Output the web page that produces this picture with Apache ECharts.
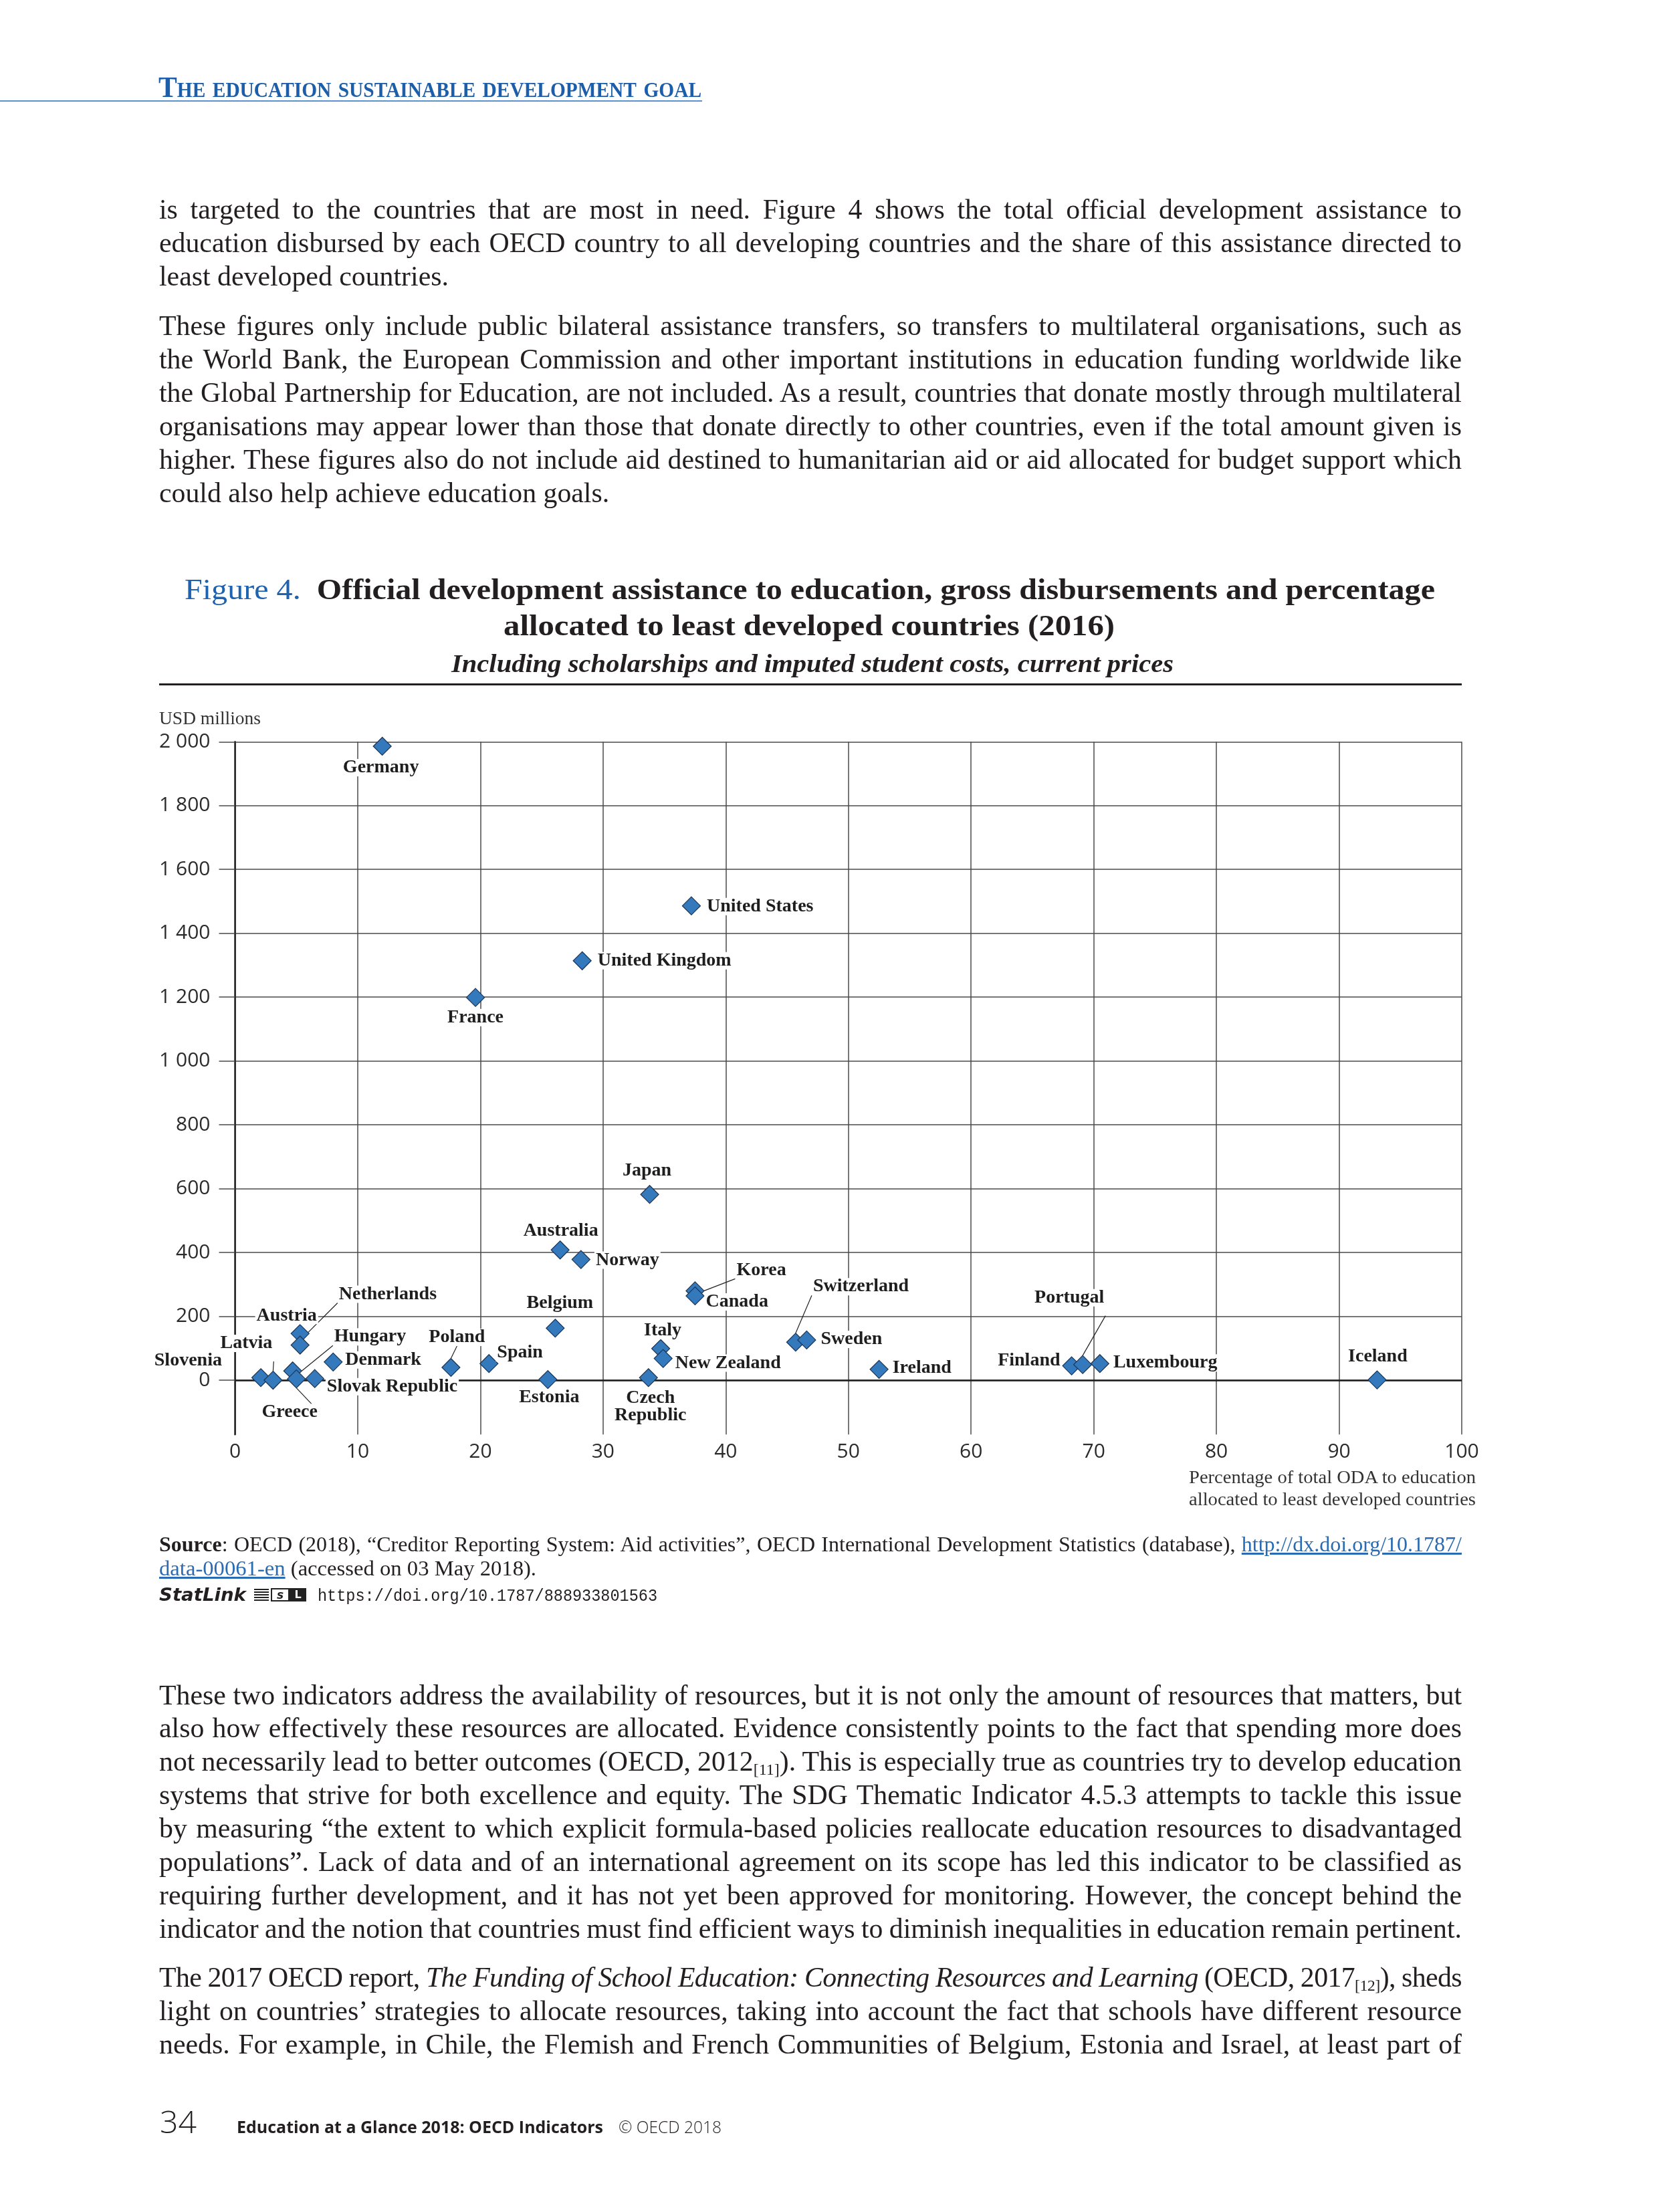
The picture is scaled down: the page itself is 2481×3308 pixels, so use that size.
<!DOCTYPE html>
<html><head><meta charset="utf-8">
<script src="https://cdn.jsdelivr.net/npm/echarts@6/dist/echarts.min.js"></script>
<style>
html,body{margin:0;padding:0;background:#fff}
#page{position:relative;width:2481px;height:3308px;overflow:hidden;background:#fff}
#chart{position:absolute;left:0;top:0;width:2481px;height:3308px}
.t{position:absolute;left:0;top:0;white-space:nowrap;font-family:'Liberation Serif',serif;color:#231f20;line-height:1}
.body{font-size:41.8px}
.hdr{font-size:44px;font-weight:bold;font-variant:small-caps;color:#1c5ea9}
.title{font-size:44px;font-weight:bold}
.sub{font-size:38px;font-style:italic;font-weight:bold}
.note{font-size:27px;color:#333}
.src{font-size:32px}
.src a{color:#2a6cb3;text-decoration:underline}
.foot{font-family:'Open Sans',sans-serif}
</style></head>
<body><div id="page">
<div id="chart"></div>

<div class="t hdr" data-x="237" data-b="145" data-w="812" data-fit="scale">The education sustainable development goal</div>
<div style="position:absolute;left:0;top:150px;width:1050px;height:2px;background:#5b93cd"></div>

<div class="t body" data-x="238" data-b="327" data-w="1948" data-fit="justify">is targeted to the countries that are most in need. Figure 4 shows the total official development assistance to</div>
<div class="t body" data-x="238" data-b="377" data-w="1948" data-fit="justify">education disbursed by each OECD country to all developing countries and the share of this assistance directed to</div>
<div class="t body" data-x="238" data-b="427">least developed countries.</div>

<div class="t body" data-x="238" data-b="501" data-w="1948" data-fit="justify">These figures only include public bilateral assistance transfers, so transfers to multilateral organisations, such as</div>
<div class="t body" data-x="238" data-b="551" data-w="1948" data-fit="justify">the World Bank, the European Commission and other important institutions in education funding worldwide like</div>
<div class="t body" data-x="238" data-b="601" data-w="1948" data-fit="justify">the Global Partnership for Education, are not included. As a result, countries that donate mostly through multilateral</div>
<div class="t body" data-x="238" data-b="651" data-w="1948" data-fit="justify">organisations may appear lower than those that donate directly to other countries, even if the total amount given is</div>
<div class="t body" data-x="238" data-b="701" data-w="1948" data-fit="justify">higher. These figures also do not include aid destined to humanitarian aid or aid allocated for budget support which</div>
<div class="t body" data-x="238" data-b="751">could also help achieve education goals.</div>

<div class="t title" data-x="276" data-b="896" data-w="1870" data-fit="scale"><span style="color:#1d63b0;font-weight:normal">Figure 4.</span>&#8194;Official development assistance to education, gross disbursements and percentage</div>
<div class="t title" data-cx="1210" data-b="950" data-w="914" data-fit="scale">allocated to least developed countries (2016)</div>
<div class="t sub" data-cx="1215" data-b="1005" data-w="1080" data-fit="scale">Including scholarships and imputed student costs, current prices</div>
<div style="position:absolute;left:238px;top:1022px;width:1948px;height:3px;background:#231f20"></div>

<div class="t note" data-x="238" data-b="1083" data-w="152" data-fit="scale">USD millions</div>
<div class="t note" data-rx="2207" data-b="2218" data-w="429" data-fit="scale">Percentage of total ODA to education</div>
<div class="t note" data-rx="2207" data-b="2251" data-w="429" data-fit="scale">allocated to least developed countries</div>

<div class="t src" data-x="238" data-b="2320" data-w="1948" data-fit="justify"><b>Source</b>: OECD (2018), “Creditor Reporting System: Aid activities”, OECD International Development Statistics (database), <a>http://dx.doi.org/10.1787/</a></div>
<div class="t src" data-x="238" data-b="2356" data-w="564" data-fit="scale"><a>data-00061-en</a> (accessed on 03 May 2018).</div>
<div class="t" style="font-family:'DejaVu Sans',sans-serif;font-weight:bold;font-style:italic;font-size:26px" data-x="238" data-b="2394" data-w="130" data-fit="scale">StatLink</div>
<div style="position:absolute;left:380px;top:2375px;width:78px;height:20px">
  <div style="position:absolute;left:0;top:1px;width:22px;height:18px;background:repeating-linear-gradient(to bottom,#222 0 2px,transparent 2px 4px)"></div>
  <div style="position:absolute;left:25px;top:0;width:24px;height:16px;border:2px solid #222;font:italic bold 17px 'DejaVu Sans';line-height:16px;text-align:center;color:#222">s</div>
  <div style="position:absolute;left:53px;top:0;width:25px;height:20px;background:#222;color:#fff;font:bold 16px 'DejaVu Sans';line-height:20px;text-align:center">L</div>
</div>
<div class="t" style="font-family:'Liberation Mono',monospace;font-size:25px" data-x="475" data-b="2394" data-w="508" data-fit="scale">https://doi.org/10.1787/888933801563</div>

<div class="t body" data-x="238" data-b="2549" data-w="1948" data-fit="justify">These two indicators address the availability of resources, but it is not only the amount of resources that matters, but</div>
<div class="t body" data-x="238" data-b="2598" data-w="1948" data-fit="justify">also how effectively these resources are allocated. Evidence consistently points to the fact that spending more does</div>
<div class="t body" data-x="238" data-b="2648" data-w="1948" data-fit="justify">not necessarily lead to better outcomes (OECD, 2012<span style="font-size:24px;position:relative;top:6px">[11]</span>). This is especially true as countries try to develop education</div>
<div class="t body" data-x="238" data-b="2698" data-w="1948" data-fit="justify">systems that strive for both excellence and equity. The SDG Thematic Indicator 4.5.3 attempts to tackle this issue</div>
<div class="t body" data-x="238" data-b="2748" data-w="1948" data-fit="justify">by measuring “the extent to which explicit formula-based policies reallocate education resources to disadvantaged</div>
<div class="t body" data-x="238" data-b="2798" data-w="1948" data-fit="justify">populations”. Lack of data and of an international agreement on its scope has led this indicator to be classified as</div>
<div class="t body" data-x="238" data-b="2848" data-w="1948" data-fit="justify">requiring further development, and it has not yet been approved for monitoring. However, the concept behind the</div>
<div class="t body" data-x="238" data-b="2898" data-w="1948" data-fit="justify">indicator and the notion that countries must find efficient ways to diminish inequalities in education remain pertinent.</div>

<div class="t body" style="letter-spacing:-0.6px" data-x="238" data-b="2971" data-w="1948" data-fit="justify">The 2017 OECD report, <i>The Funding of School Education: Connecting Resources and Learning</i> (OECD, 2017<span style="font-size:24px;position:relative;top:6px">[12]</span>), sheds</div>
<div class="t body" data-x="238" data-b="3021" data-w="1948" data-fit="justify">light on countries’ strategies to allocate resources, taking into account the fact that schools have different resource</div>
<div class="t body" data-x="238" data-b="3071" data-w="1948" data-fit="justify">needs. For example, in Chile, the Flemish and French Communities of Belgium, Estonia and Israel, at least part of</div>

<div class="t foot" style="font-size:46px;font-weight:300" data-x="239" data-b="3190" data-w="55" data-fit="scale">34</div>
<div class="t foot" style="font-size:25px;font-weight:bold" data-x="354" data-b="3190" data-w="548" data-fit="scale">Education at a Glance 2018: OECD Indicators</div>
<div class="t foot" style="font-size:25px;font-weight:300" data-x="925" data-b="3190" data-w="154" data-fit="scale">© OECD 2018</div>
</div>

<script>
// ---------------- data ----------------
const COUNTRIES = ['Germany','France','United Kingdom','United States','Japan','Australia','Norway','Korea','Canada','Belgium','Italy','New Zealand','Czech Republic','Estonia','Spain','Poland','Denmark','Austria','Netherlands','Hungary','Greece','Slovak Republic','Slovenia','Latvia','Switzerland','Sweden','Ireland','Finland','Portugal','Luxembourg','Iceland'];
// Percentage of total ODA to education allocated to least developed countries
const SHARE_LDC = [12.0,19.6,28.3,37.2,33.8,26.5,28.2,37.5,37.5,26.1,34.7,34.9,33.7,25.5,20.7,17.6,8.0,5.3,5.3,4.7,5.0,6.5,2.1,3.1,45.7,46.6,52.5,68.2,69.1,70.5,93.1];
// ODA to education, gross disbursements, USD millions
const ODA_USD = [1986,1199,1314,1486,582,408,378,280,264,163,99,68,8,2,52,40,57,146,110,29,4,5,8,0,119,126,34,45,49,52,1];
const X_TICKS = [0,10,20,30,40,50,60,70,80,90,100];
const Y_TICKS = [0,200,400,600,800,1000,1200,1400,1600,1800,2000];
const Y_TICK_LABELS = ['0','200','400','600','800','1 000','1 200','1 400','1 600','1 800','2 000'];
const Y_MIN = -170, Y_MAX = 2000;

// ---------------- label placement (style, not data) ----------------
const LABEL_POS = {
  'Germany':['inside',[-2,32]], 'France':['inside',[0,30]],
  'United Kingdom':['right',[7,0]], 'United States':['right',[7,1]],
  'Japan':['inside',[-4,-35]], 'Australia':['inside',[1,-29]], 'Norway':['right',[6,1]],
  'Korea':['right',[46,-31]], 'Canada':['right',[0,9]], 'Belgium':['inside',[7,-37]],
  'Italy':['inside',[3,-27]], 'New Zealand':['right',[2,7]], 'Czech Republic':['inside',[3,44]],
  'Estonia':['inside',[2,27]], 'Spain':['right',[-4,-16]], 'Poland':['inside',[9,-45]],
  'Denmark':['right',[2,-3]], 'Austria':['inside',[-20,-27]], 'Netherlands':['right',[42,-76]],
  'Hungary':['right',[46,-51]], 'Greece':['inside',[-10,50]], 'Slovak Republic':['right',[2,12]],
  'Slovenia':['left',[-42,-25]], 'Latvia':['inside',[-40,-55]], 'Switzerland':['right',[10,-83]],
  'Sweden':['right',[5,-1]], 'Ireland':['right',[4,-2]], 'Finland':['left',[-1,-8]],
  'Portugal':['inside',[-20,-100]], 'Luxembourg':['right',[4,-1]], 'Iceland':['inside',[1,-35]]
};
const LEADERS = ['Korea','Netherlands','Hungary','Greece','Slovenia','Latvia','Switzerland','Poland','Portugal'];
const LABEL_TEXT = {'Czech Republic':'Czech\nRepublic'};

// ---------------- text layout ----------------
function layoutText(){
  document.querySelectorAll('[data-b]').forEach(el=>{
    const probe=document.createElement('span');
    probe.style.cssText='display:inline-block;width:0;height:0;vertical-align:baseline';
    el.insertBefore(probe, el.firstChild);
    const fit=el.dataset.fit, W=+el.dataset.w;
    let w=el.getBoundingClientRect().width;
    if(fit==='justify'){
      const n=(el.textContent.match(/ /g)||[]).length;
      if(n>0) el.style.wordSpacing=((W-w)/n)+'px';
      w=W;
    } else if(fit==='scale'){
      el.style.transformOrigin='0 0';
      el.style.transform='scaleX('+(W/w)+')';
      w=W;
    }
    let x;
    if(el.dataset.x!=null) x=+el.dataset.x;
    else if(el.dataset.cx!=null) x=+el.dataset.cx-w/2;
    else x=+el.dataset.rx-w;
    el.style.left=x+'px';
    const off=probe.getBoundingClientRect().bottom-el.getBoundingClientRect().top;
    el.style.top=(+el.dataset.b-off)+'px';
  });
}
layoutText();

// ---------------- chart ----------------
const seriesData = COUNTRIES.map((c,i)=>({
  name:c,
  value:[SHARE_LDC[i], ODA_USD[i]],
  label:{position:LABEL_POS[c][0], offset:LABEL_POS[c][1]},
  labelLine:{show:LEADERS.indexOf(c)>=0}
}));

const chart = echarts.init(document.getElementById('chart'), null, {renderer:'canvas', width:2481, height:3308});
const GRID = '#4a4a4a';
const TICK_FONT = {fontFamily:'Open Sans', fontWeight:'normal', fontSize:30, color:'#2b2b2b'};
chart.setOption({
  animation:false,
  backgroundColor:'transparent',
  grid:{left:351.5, right:295, top:1109.3, bottom:1162.8, containLabel:false},
  xAxis:{
    type:'value', min:X_TICKS[0], max:X_TICKS[X_TICKS.length-1], interval:10,
    axisLine:{show:false}, axisTick:{show:false},
    splitLine:{show:true, lineStyle:{color:GRID, width:1.5}},
    axisLabel:Object.assign({margin:11}, TICK_FONT)
  },
  yAxis:{
    type:'value', min:Y_MIN, max:Y_MAX,
    axisLine:{show:true, onZero:false, lineStyle:{color:'#222', width:2.5}},
    axisTick:{show:true, inside:false, length:24, customValues:Y_TICKS, lineStyle:{color:GRID, width:1.5}},
    splitLine:{show:true, lineStyle:{color:GRID, width:1.5}},
    axisLabel:Object.assign({customValues:Y_TICKS, margin:37,
      formatter:v=>{const k=Y_TICKS.indexOf(v); return k>=0?Y_TICK_LABELS[k]:'';}}, TICK_FONT)
  },
  series:[{
    type:'scatter', symbol:'diamond', symbolSize:27, z:3,
    itemStyle:{color:'#3579bd', borderColor:'#1c3553', borderWidth:1.2, opacity:1},
    label:{show:true, distance:0, formatter:p=>LABEL_TEXT[p.name]||p.name,
      fontFamily:'Liberation Serif', fontWeight:'bold', fontSize:28, lineHeight:26,
      color:'#1e1e1e', backgroundColor:'#ffffff', padding:[0,2], textBorderWidth:0},
    labelLine:{show:false, lineStyle:{color:'#222', width:1.2}},
    emphasis:{disabled:true},
    data:seriesData,
    markLine:{silent:true, z:1, symbol:['none','none'], label:{show:false},
      lineStyle:{color:'#1e1e1e', width:2.5, type:'solid'}, data:[{yAxis:0}]}
  }]
});
</script>
</body></html>
